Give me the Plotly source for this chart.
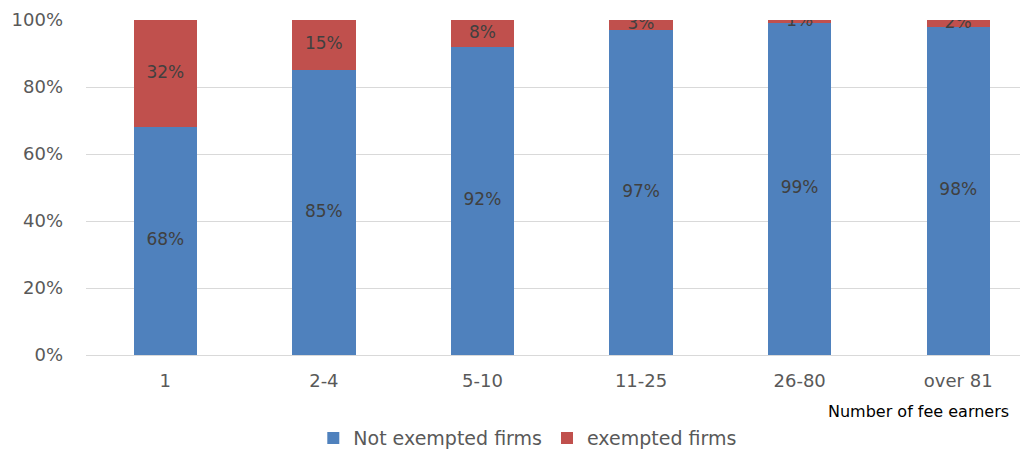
import plotly.graph_objects as go

categories = ["1", "2-4", "5-10", "11-25", "26-80", "over 81"]
not_exempted = [68, 85, 92, 97, 99, 98]
exempted = [32, 15, 8, 3, 1, 2]
y_ticks = [0, 20, 40, 60, 80, 100]
y_tick_labels = [f"{v}%" for v in y_ticks]

BLUE = "#4f81bd"
RED = "#c0504d"
FONT = "DejaVu Sans"
GRAY = "#595959"
LABEL = "#404040"

fig = go.Figure()
fig.add_trace(go.Bar(x=categories, y=not_exempted, name="Not exempted firms",
                     marker=dict(color=BLUE, line=dict(width=0)), width=0.4))
fig.add_trace(go.Bar(x=categories, y=exempted, name="exempted firms",
                     marker=dict(color=RED, line=dict(width=0)), width=0.4))

# data labels centred in each segment
fig.add_trace(go.Scatter(x=categories, y=[v / 2 for v in not_exempted],
                         text=[f"{v}%" for v in not_exempted], mode="text",
                         textfont=dict(family=FONT, size=17, color=LABEL),
                         showlegend=False, hoverinfo="skip"))
fig.add_trace(go.Scatter(x=categories, y=[a + b / 2 for a, b in zip(not_exempted, exempted)],
                         text=[f"{v}%" for v in exempted], mode="text",
                         textfont=dict(family=FONT, size=17, color=LABEL),
                         showlegend=False, hoverinfo="skip"))

fig.update_layout(
    width=1020, height=442,
    barmode="stack",
    margin=dict(l=78, r=0, t=12, b=95, autoexpand=False),
    plot_bgcolor="white", paper_bgcolor="white",
    font=dict(family=FONT, size=18, color=GRAY),
    xaxis=dict(range=[-0.5, 5.44], showgrid=False, ticks="", showline=False,
               automargin=False, ticklabelstandoff=13,
               tickfont=dict(family=FONT, size=18, color=GRAY)),
    yaxis=dict(range=[0, 100], tickvals=y_ticks, ticktext=y_tick_labels,
               showgrid=True, gridcolor="#d9d9d9", gridwidth=1,
               zeroline=True, zerolinecolor="#d9d9d9", zerolinewidth=1,
               ticks="", ticklabelstandoff=22, automargin=False,
               tickfont=dict(family=FONT, size=18, color=GRAY)),
    legend=dict(orientation="h", x=0.469, xanchor="center", y=-0.248, yanchor="middle",
                font=dict(family=FONT, size=19, color=GRAY), traceorder="normal",
                itemwidth=30),
    annotations=[dict(text="Number of fee earners", xref="paper", yref="paper",
                      x=0.786, y=-0.17, xanchor="left", yanchor="middle",
                      showarrow=False, font=dict(family=FONT, size=16, color="#000000"))],
    showlegend=True,
)

fig.write_html("out.html")
